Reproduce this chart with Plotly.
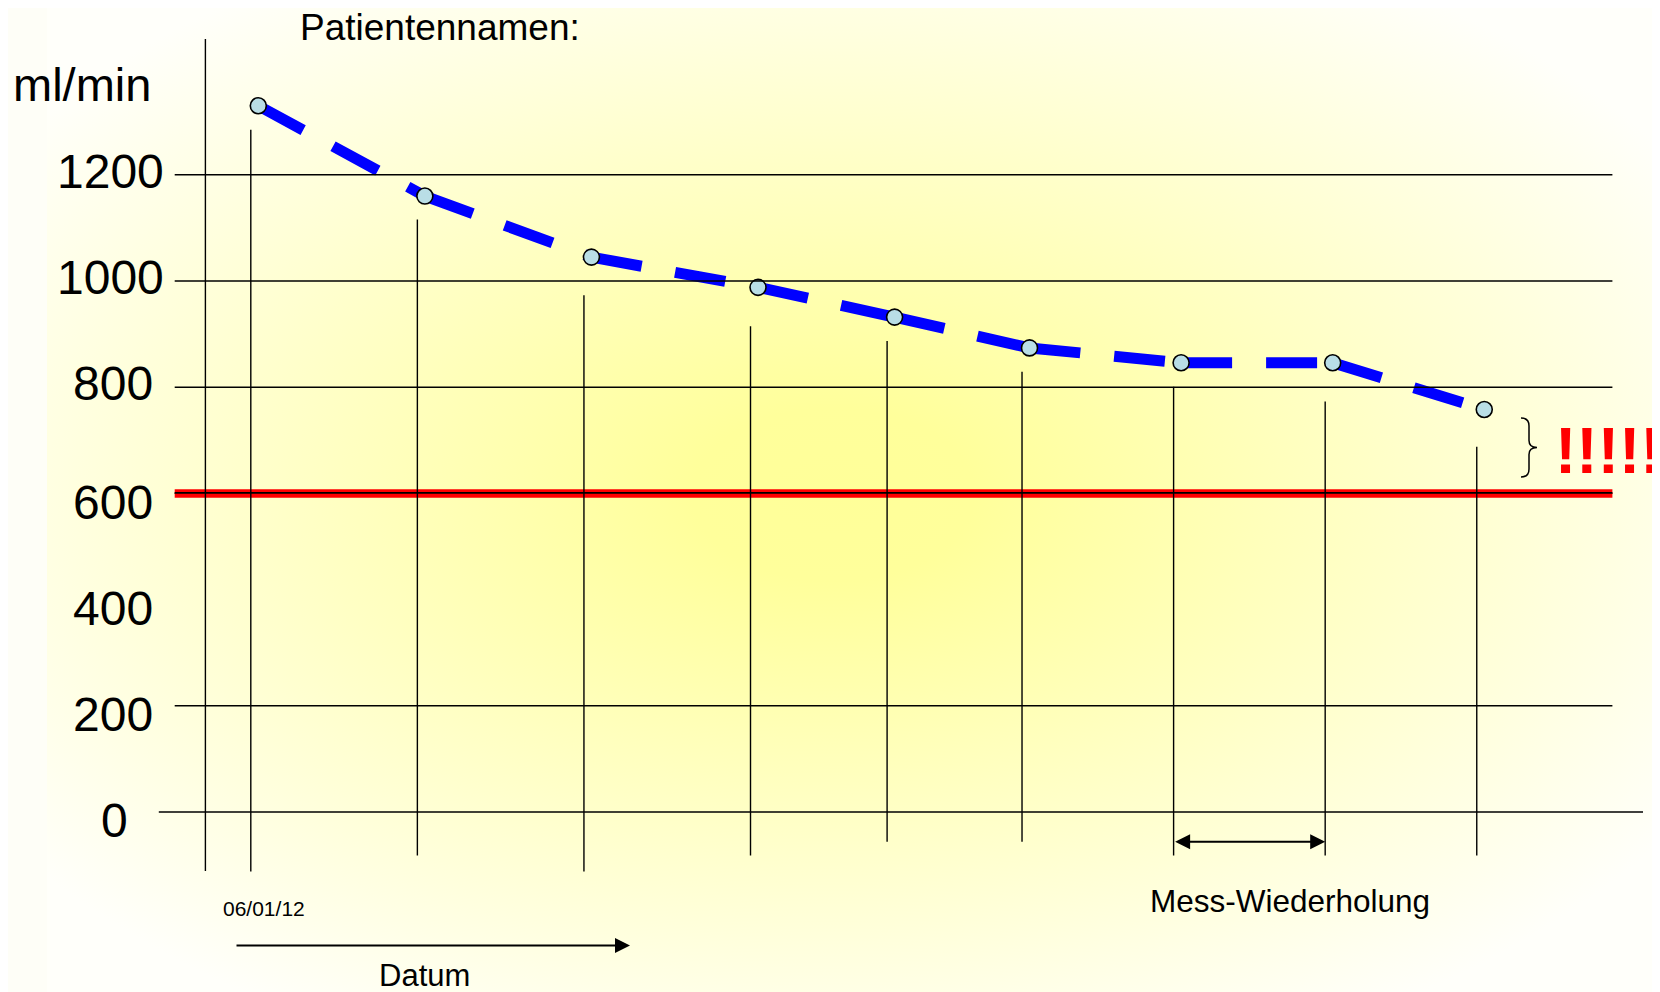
import base64
import plotly.graph_objects as go

# ---------------- data ----------------
messung_x = [1, 2, 3, 4, 4.82, 5.63, 6.54, 7.45, 8.36]          # measurement positions (time order)
clearance = [1330, 1160, 1045, 988, 932, 874, 846, 846, 758]      # ml/min
grid_values = [0, 200, 600, 800, 1000, 1200]
tick_values = [1200, 1000, 800, 600, 400, 200, 0]
tick_labels = ["1200", "1000", "800", "600", "400", "200", "0"]
grenzwert = 600
start_datum = "06/01/12"
wiederholung = (6, 7)   # indices of the repeated measurement

# ---------------- geometry / style ----------------
W, H = 1660, 992
OFF = 8  # page body margin of the html page
# target pixel of x=1 is 258.3, 166.57 px per x unit; y=0 at 812, 0.531 px per ml/min
X_RANGE = [1 + (OFF - 258.3) / 166.57, 1 + (W + OFF - 258.3) / 166.57]
Y_RANGE = [-(H + OFF - 812) / 0.531, (812 - OFF) / 0.531]
FONT = "Liberation Sans, Arial, sans-serif"


def px(xp):
    return (xp - OFF) / W


def py(yp):
    return 1 - (yp - OFF) / H


# background radial gradient as svg image
bg_left = 47
bg_w = W - bg_left + OFF
svg = f'''<svg xmlns="http://www.w3.org/2000/svg" width="{bg_w}" height="{H}" viewBox="0 0 {bg_w} {H}" preserveAspectRatio="none">
<defs><radialGradient id="g" cx="0.485" cy="0.49" r="0.62">
<stop offset="0" stop-color="#FFFF99"/>
<stop offset="0.14" stop-color="#FFFF9B"/>
<stop offset="1" stop-color="#FFFFFA"/>
</radialGradient></defs>
<rect x="0" y="0" width="{bg_w}" height="{H}" fill="url(#g)"/>
</svg>'''
bg_src = "data:image/svg+xml;base64," + base64.b64encode(svg.encode()).decode()

fig = go.Figure()

# dashed blue segments (each segment restarts its dash pattern)
for i in range(len(messung_x) - 1):
    fig.add_trace(go.Scatter(
        x=messung_x[i:i + 2], y=clearance[i:i + 2], mode="lines",
        line=dict(color="#0000FF", width=11, dash="51px,34px"),
        hoverinfo="skip", showlegend=False))

# markers
fig.add_trace(go.Scatter(
    x=messung_x, y=clearance, mode="markers",
    marker=dict(size=16, color="#B9DEE6", line=dict(color="black", width=1.6)),
    showlegend=False))

shapes = []
# horizontal grid lines
for g in grid_values:
    x0, x1 = (158.8, 1643) if g == 0 else (174.7, 1612.4)
    shapes.append(dict(type="line", xref="paper", yref="y", x0=px(x0), x1=px(x1), y0=g, y1=g,
                       line=dict(color="black", width=1.4), layer="above"))

# red threshold band with black line inside
shapes.append(dict(type="line", xref="paper", yref="y", x0=px(174.7), x1=px(1612.4),
                   y0=grenzwert, y1=grenzwert, line=dict(color="#FF0000", width=8.5), layer="above"))
shapes.append(dict(type="line", xref="paper", yref="y", x0=px(174.7), x1=px(1612.4),
                   y0=grenzwert + 1, y1=grenzwert + 1, line=dict(color="black", width=1.6), layer="above"))

# vertical axis line
shapes.append(dict(type="line", xref="paper", yref="paper", x0=px(205.4), x1=px(205.4),
                   y0=py(39), y1=py(871), line=dict(color="black", width=1.4)))

# stems for each measurement
stem_gap = [45, 44, 72, 73, 45, 45, 45, 73, 70]
stem_bottom = [-112, -82, -112, -82, -56, -56, -82, -82, -82]
stem_shift = 0.045
for xv, yv, gap, bot in zip(messung_x, clearance, stem_gap, stem_bottom):
    shapes.append(dict(type="line", xref="x", yref="y", x0=xv - stem_shift, x1=xv - stem_shift,
                       y0=bot, y1=yv - gap, line=dict(color="black", width=1.4)))

# curly brace
bx = [1521, 1529, 1537]
by_top, by_mid, by_bot = 418, 447.5, 477
path = (f"M {px(bx[0])},{py(by_top)} Q {px(bx[1])},{py(by_top)} {px(bx[1])},{py(by_top + 8)} "
        f"L {px(bx[1])},{py(by_mid - 7)} Q {px(bx[1])},{py(by_mid)} {px(bx[2])},{py(by_mid)} "
        f"Q {px(bx[1])},{py(by_mid)} {px(bx[1])},{py(by_mid + 7)} "
        f"L {px(bx[1])},{py(by_bot - 8)} Q {px(bx[1])},{py(by_bot)} {px(bx[0])},{py(by_bot)}")
shapes.append(dict(type="path", xref="paper", yref="paper", path=path,
                   line=dict(color="black", width=1.5)))

annotations = []
# tick labels
label_right = [166.2, 166.2, 154.6, 154.6, 154.6, 154.6, 130.2]
label_offset = [6, 7, 7, -18, -17, -17, -16]
for v, t, xr, off in zip(tick_values, tick_labels, label_right, label_offset):
    annotations.append(dict(text=t, xref="paper", yref="y", x=px(xr), y=v + off,
                            xanchor="right", yanchor="middle", showarrow=False,
                            font=dict(family=FONT, size=48, color="black")))

annotations += [
    dict(text="ml/min", xref="paper", yref="paper", x=px(10.6), y=py(84.7), xanchor="left",
         yanchor="middle", showarrow=False, font=dict(family=FONT, size=47, color="black")),
    dict(text="Patientennamen:", xref="paper", yref="paper", x=px(297.5), y=py(27.5), xanchor="left",
         yanchor="middle", showarrow=False, font=dict(family=FONT, size=37, color="black")),
    dict(text=start_datum, xref="paper", yref="paper", x=px(221), y=py(908), xanchor="left",
         yanchor="middle", showarrow=False, font=dict(family=FONT, size=21, color="black")),
    dict(text="Datum", xref="paper", yref="paper", x=px(424), y=py(975), xanchor="center",
         yanchor="middle", showarrow=False, font=dict(family=FONT, size=31, color="black")),
    dict(text="Mess-Wiederholung", xref="paper", yref="paper", x=px(1290), y=py(901), xanchor="center",
         yanchor="middle", showarrow=False, font=dict(family=FONT, size=31.5, color="black")),
    dict(text="<b>!!!!!</b>", xref="paper", yref="paper", x=px(1553), y=py(451.5), xanchor="left",
         yanchor="middle", showarrow=False, font=dict(family=FONT, size=64, color="#FF0000")),
    # Datum arrow
    dict(text="", xref="paper", yref="paper", x=px(630), y=py(945.5), ax=-395, ay=0,
         showarrow=True, arrowhead=2, arrowsize=1.5, arrowwidth=2, arrowcolor="black"),
    # Mess-Wiederholung double arrow
    dict(text="", xref="x", yref="y", axref="x", ayref="y",
         x=messung_x[wiederholung[1]] - stem_shift, y=-56,
         ax=messung_x[wiederholung[0]] - stem_shift, ay=-56,
         showarrow=True, arrowhead=2, startarrowhead=2, arrowside="end+start",
         arrowsize=1.5, startarrowsize=1.5, arrowwidth=2, arrowcolor="black",
         standoff=0, startstandoff=0),
]

fig.update_layout(
    width=W, height=H,
    margin=dict(l=0, r=0, t=0, b=0, pad=0),
    paper_bgcolor="#FEFEF7", plot_bgcolor="rgba(0,0,0,0)",
    xaxis=dict(visible=False, range=X_RANGE, fixedrange=True),
    yaxis=dict(visible=False, range=Y_RANGE, fixedrange=True),
    showlegend=False,
    shapes=shapes, annotations=annotations,
    images=[dict(source=bg_src, xref="paper", yref="paper", x=px(bg_left), y=1,
                 sizex=bg_w / W, sizey=1, sizing="stretch", layer="below",
                 xanchor="left", yanchor="top")],
)

fig.write_html("out.html")
